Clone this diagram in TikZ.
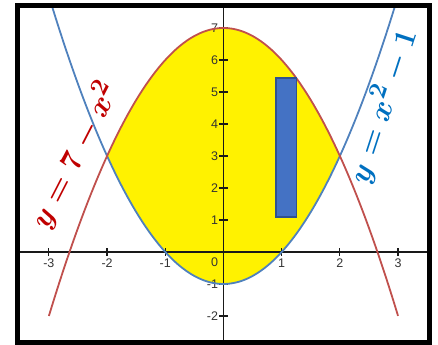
\documentclass[tikz,border=0pt]{standalone}
\usepackage{fontspec}
\newfontfamily\axisfont{Liberation Sans}
\usetikzlibrary{positioning}
\definecolor{curvered}{RGB}{192,80,77}
\definecolor{curveblue}{RGB}{79,129,189}
\definecolor{labelred}{RGB}{192,0,0}
\definecolor{labelblue}{RGB}{0,112,192}
\definecolor{areayellow}{RGB}{255,242,0}
\definecolor{barfill}{RGB}{68,114,196}
\definecolor{barline}{RGB}{47,82,143}
\tikzstyle{curve}=[line width=1.8pt]
\tikzstyle{axis}=[line width=1.2pt,black!90]
\tikzstyle{tickmark}=[line width=1.2pt,black!90]
\tikzstyle{num}=[font=\axisfont\fontsize{12.5}{14}\selectfont,text=black!80,inner sep=0pt]
\tikzstyle{eqn}=[font=\Huge\boldmath,scale=1.22,inner sep=0pt]
\tikzstyle{bar}=[fill=barfill,draw=barline,line width=1.6pt]

\begin{document}
\begin{tikzpicture}[x=58.2pt,y=32pt]
    \useasboundingbox (-3.840,-2.906) rectangle (3.686,7.875);
    \coordinate (fl) at (-3.540,-2.828);
    \coordinate (fr) at (3.548,7.694);
    \coordinate (xl) at (-3.540,0);
    \coordinate (xr) at (3.548,0);
    \coordinate (yb) at (0,-2.828);
    \coordinate (yt) at (0,7.694);
    \fill[areayellow] plot[domain=-2:2,samples=80] (\x,{7-\x*\x})
        -- plot[domain=2:-2,samples=80] (\x,{\x*\x-1}) -- cycle;
    \draw[axis] (xl) -- (xr);
    \draw[axis] (yb) -- (yt);
    \foreach \i in {-3,-2,-1,1,2,3} {
        \draw[tickmark] (\i,-0.125) -- (\i,0.125);
        \node[num,anchor=north] (xn\i) at (\i,-0.2) {\i};
    }
    \foreach \j in {-2,-1,1,2,3,4,5,6,7} {
        \draw[tickmark] (-0.07,\j) -- (0.07,\j);
        \node[num,anchor=east] (yn\j) at (-0.09,\j) {\j};
    }
    \node[num,anchor=east] (on) at (-0.09,-0.31) {0};
    \draw[curve,curveblue] plot[domain=-2.94:2.94,samples=120] (\x,{\x*\x-1});
    \draw[curve,curvered] plot[domain=-3:3,samples=120] (\x,{7-\x*\x});
    \draw[bar] (0.902,1.10) rectangle (1.258,5.43);
    \node[eqn,text=labelred,rotate=62.8] (redeq) at (-2.569,3.031) {$y=7-x^2$};
    \node[eqn,text=labelblue,rotate=72] (blueeq) at (2.723,4.5625) {$y=x^2-1$};
    \draw[line width=5pt] (fl) rectangle (fr);
\end{tikzpicture}
\end{document}
